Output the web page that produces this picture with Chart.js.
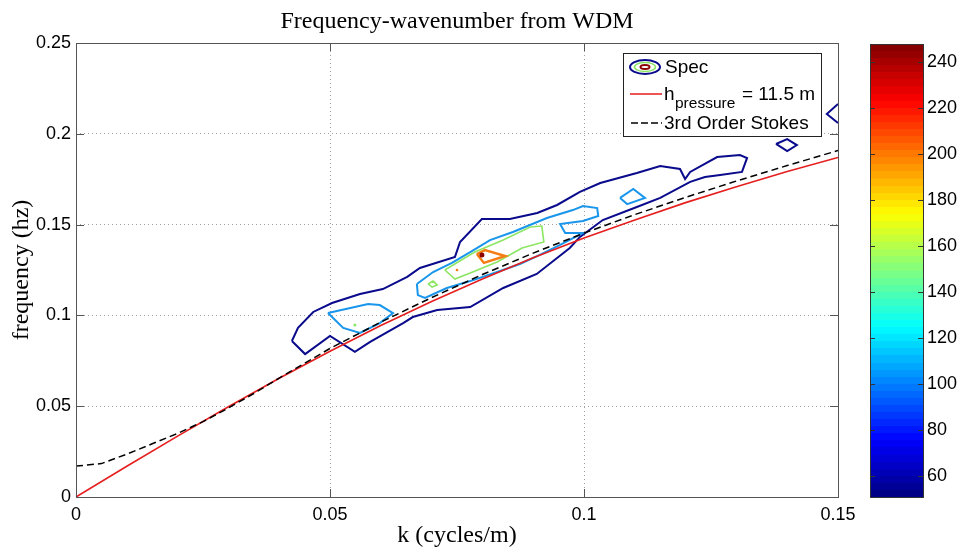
<!DOCTYPE html>
<html>
<head>
<meta charset="utf-8">
<script src="https://cdn.jsdelivr.net/npm/chart.js@4.4.1/dist/chart.umd.min.js"></script>
<style>
  html, body { margin: 0; padding: 0; background: #fff; }
  #wrap { position: relative; width: 963px; height: 548px; }
  #main { position: absolute; left: 0; top: 0; }
  #cbar { position: absolute; left: 870px; top: 0; }
</style>
</head>
<body>
<div id="wrap">
  <canvas id="main" width="963" height="548"></canvas>
  <canvas id="cbar" width="93" height="548"></canvas>
</div>
<script>
// linear dispersion curve, h = 11.5 m
var kLinear = [0, 0.01, 0.02, 0.03, 0.04, 0.05, 0.06, 0.07, 0.08, 0.09, 0.10, 0.11, 0.12, 0.13, 0.14, 0.15];
var fLinear = [0, 0.0169, 0.0335, 0.0497, 0.0654, 0.0803, 0.0944, 0.1077, 0.1201, 0.1317, 0.1426, 0.1526, 0.1621, 0.1709, 0.1792, 0.1870];

// 3rd order Stokes (black dashed)
var kStokes = [0, 0.005, 0.01, 0.015, 0.02, 0.025, 0.03, 0.035, 0.04, 0.05, 0.06, 0.07, 0.08, 0.09, 0.10, 0.11, 0.12, 0.13, 0.14, 0.15];
var fStokes = [0.0170, 0.0184, 0.0236, 0.0293, 0.0350, 0.0415, 0.0490, 0.0570, 0.0655, 0.0818, 0.0963, 0.1098, 0.1225, 0.1343, 0.1453, 0.1555, 0.1650, 0.1740, 0.1825, 0.1908];

// WDM spectrum contours, [k, f] pairs, one list per closed line
var spec60main = [[0.0425,0.0859],[0.0437,0.0931],[0.0467,0.1019],[0.0504,0.1068],[0.0559,0.1118],[0.0604,0.1145],[0.0652,0.1212],[0.0677,0.1261],[0.0746,0.1322],[0.0756,0.1404],[0.0799,0.1531],[0.0854,0.1531],[0.0908,0.1564],[0.0947,0.1608],[0.0992,0.1680],[0.1032,0.1729],[0.1104,0.1784],[0.1150,0.1823],[0.1189,0.1806],[0.1199,0.1751],[0.1209,0.1790],[0.1262,0.1872],[0.1307,0.1883],[0.1321,0.1867],[0.1311,0.1790],[0.1268,0.1773],[0.1238,0.1762],[0.1209,0.1735],[0.1150,0.1647],[0.1104,0.1597],[0.1037,0.1525],[0.0992,0.1432],[0.0972,0.1371],[0.0907,0.1228],[0.0841,0.1151],[0.0776,0.1046],[0.0711,0.1030],[0.0663,0.0991],[0.0644,0.0958],[0.0579,0.0854],[0.0549,0.0799],[0.0500,0.0887],[0.0451,0.0787],[0.0425,0.0859]];
var spec60small = [[0.1378,0.1944],[0.1400,0.1971],[0.1419,0.1938],[0.1400,0.1905],[0.1378,0.1944]];
var spec60edge = [[0.1500,0.2164],[0.1478,0.2109],[0.1500,0.2059]];
var spec105left = [[0.0496,0.1013],[0.0575,0.1063],[0.0598,0.1057],[0.0624,0.1013],[0.0598,0.0958],[0.0559,0.0903],[0.0526,0.0931],[0.0496,0.1013]];
var spec105main = [[0.0671,0.1173],[0.0703,0.1239],[0.0740,0.1289],[0.0776,0.1349],[0.0815,0.1415],[0.0860,0.1459],[0.0927,0.1536],[0.0978,0.1580],[0.0998,0.1602],[0.1026,0.1591],[0.1028,0.1547],[0.0998,0.1520],[0.0953,0.1503],[0.0963,0.1454],[0.0998,0.1454],[0.0953,0.1388],[0.0913,0.1333],[0.0874,0.1283],[0.0829,0.1239],[0.0776,0.1189],[0.0730,0.1151],[0.0687,0.1096],[0.0673,0.1112],[0.0671,0.1173]];
var spec105small = [[0.1071,0.1647],[0.1097,0.1696],[0.1120,0.1647],[0.1085,0.1613],[0.1071,0.1647]];
var spec155main = [[0.0726,0.1250],[0.0752,0.1294],[0.0785,0.1349],[0.0841,0.1415],[0.0894,0.1487],[0.0917,0.1492],[0.0921,0.1404],[0.0878,0.1371],[0.0829,0.1294],[0.0776,0.1234],[0.0746,0.1200],[0.0726,0.1250]];
var spec155small = [[0.0693,0.1173],[0.0703,0.1189],[0.0711,0.1167],[0.0701,0.1156],[0.0693,0.1173]];
var spec155dot = [[0.0549,0.0947]];
var spec205main = [[0.0789,0.1338],[0.0805,0.1360],[0.0845,0.1327],[0.0803,0.1289],[0.0789,0.1338]];
var spec205dot = [[0.0750,0.1250]];
var spec240dot = [[0.0799,0.1333]];

// axis ticks and colour scale
var xTicks = [0, 0.05, 0.1, 0.15];
var xTickLabels = ['0', '0.05', '0.1', '0.15'];
var yTicks = [0, 0.05, 0.1, 0.15, 0.2, 0.25];
var yTickLabels = ['0', '0.05', '0.1', '0.15', '0.2', '0.25'];
var colorTicks = [60, 80, 100, 120, 140, 160, 180, 200, 220, 240];
var colorRange = [51, 248];

var SANS = 'Liberation Sans, Arial, sans-serif';
var SERIF = 'Liberation Serif, Times New Roman, serif';
var NAVY = 'rgb(10,10,140)', LBLUE = 'rgb(25,150,235)', GREEN = 'rgb(140,230,100)',
    ORANGE = 'rgb(245,125,20)', DRED = 'rgb(140,0,0)', AXIS = '#555';

function pts(list) { return list.map(function(p){ return {x: p[0], y: p[1]}; }); }
function pair(ks, fs) { return ks.map(function(k, i){ return {x: k, y: fs[i]}; }); }
function contour(list, color, w) {
  return {data: pts(list), showLine: true, borderColor: color, borderWidth: w, pointRadius: 0, fill: false};
}
function dot(list, color, r) {
  return {data: pts(list), showLine: false, pointRadius: r, backgroundColor: color, borderColor: color, borderWidth: 0};
}

function jet(t) {
  function c(v){ return Math.round(255 * Math.max(0, Math.min(1, v))); }
  return 'rgb(' + c(1.5 - Math.abs(4*t - 3)) + ',' + c(1.5 - Math.abs(4*t - 2)) + ',' + c(1.5 - Math.abs(4*t - 1)) + ')';
}

// title, frame, inward ticks, legend
var decor = {
  id: 'decor',
  afterDraw: function(chart) {
    var ctx = chart.ctx, a = chart.chartArea, sx = chart.scales.x, sy = chart.scales.y;
    ctx.save();
    ctx.fillStyle = '#000';
    ctx.font = '24px ' + SERIF;
    ctx.textAlign = 'center';
    ctx.textBaseline = 'alphabetic';
    ctx.fillText('Frequency-wavenumber from WDM', (a.left + a.right) / 2, 28);

    ctx.strokeStyle = AXIS;
    ctx.lineWidth = 1;
    ctx.strokeRect(Math.round(a.left) + 0.5, Math.round(a.top) + 0.5, Math.round(a.right - a.left), Math.round(a.bottom - a.top));
    ctx.beginPath();
    xTicks.forEach(function(v){
      var x = Math.round(sx.getPixelForValue(v)) + 0.5;
      ctx.moveTo(x, a.bottom); ctx.lineTo(x, a.bottom - 8);
      ctx.moveTo(x, a.top); ctx.lineTo(x, a.top + 8);
    });
    yTicks.forEach(function(v){
      var y = Math.round(sy.getPixelForValue(v)) + 0.5;
      ctx.moveTo(a.left, y); ctx.lineTo(a.left + 8, y);
      ctx.moveTo(a.right, y); ctx.lineTo(a.right - 8, y);
    });
    ctx.stroke();

    // legend box
    var lx = 623, ly = 53, lw = 198, lh = 83;
    ctx.fillStyle = '#fff';
    ctx.fillRect(lx, ly, lw, lh);
    ctx.strokeStyle = '#222';
    ctx.strokeRect(lx + 0.5, ly + 0.5, lw, lh);
    function ell(rx, ry, col, w) {
      ctx.beginPath(); ctx.strokeStyle = col; ctx.lineWidth = w;
      ctx.ellipse(645, 67, rx, ry, 0, 0, Math.PI * 2); ctx.stroke();
    }
    ell(15, 7, NAVY, 2);
    ell(10.5, 4.5, GREEN, 1.5);
    ell(4.5, 2, DRED, 2);
    ctx.lineWidth = 1.5;
    ctx.strokeStyle = 'rgb(230,30,30)';
    ctx.beginPath(); ctx.moveTo(630, 94); ctx.lineTo(662, 94); ctx.stroke();
    ctx.strokeStyle = '#000';
    ctx.setLineDash([7, 3]);
    ctx.beginPath(); ctx.moveTo(631, 123); ctx.lineTo(662, 123); ctx.stroke();
    ctx.setLineDash([]);
    ctx.fillStyle = '#000';
    ctx.textAlign = 'left';
    ctx.font = '19px ' + SANS;
    ctx.fillText('Spec', 665, 73);
    ctx.fillText('h', 664, 100);
    ctx.fillText('= 11.5 m', 742, 100);
    ctx.fillText('3rd Order Stokes', 664, 129);
    ctx.font = '15.5px ' + SANS;
    ctx.fillText('pressure', 675, 108);
    ctx.restore();
  }
};

var datasets = [
  {data: pair(kStokes, fStokes), showLine: true, borderColor: '#000', borderWidth: 1.5, borderDash: [7, 4], pointRadius: 0, fill: false},
  {data: pair(kLinear, fLinear), showLine: true, borderColor: 'rgb(230,30,30)', borderWidth: 1.6, pointRadius: 0, fill: false},
  dot(spec240dot, DRED, 2.5),
  contour(spec205main, ORANGE, 2.5),
  dot(spec205dot, ORANGE, 1.3),
  contour(spec155main, GREEN, 1.6),
  contour(spec155small, GREEN, 1.6),
  dot(spec155dot, GREEN, 1.5),
  contour(spec105main, LBLUE, 2),
  contour(spec105left, LBLUE, 2),
  contour(spec105small, LBLUE, 2),
  contour(spec60main, NAVY, 2),
  contour(spec60small, NAVY, 2),
  contour(spec60edge, NAVY, 2)
];

new Chart(document.getElementById('main'), {
  type: 'scatter',
  data: {datasets: datasets},
  options: {
    responsive: false,
    animation: false,
    layout: {padding: {top: 43, right: 125, left: 0, bottom: 0}},
    plugins: {legend: {display: false}, tooltip: {enabled: false}},
    scales: {
      x: {
        type: 'linear', min: 0, max: 0.15,
        afterFit: function(s){ s.height = 51; },
        afterBuildTicks: function(s){ s.ticks = xTicks.map(function(v){ return {value: v}; }); },
        grid: {color: '#a0a0a0', drawTicks: false},
        border: {display: false, dash: [1, 3]},
        ticks: {color: '#000', font: {family: SANS, size: 18}, padding: 7, maxRotation: 0,
                callback: function(v, i){ return xTickLabels[i]; }},
        title: {display: true, text: 'k (cycles/m)', color: '#000', font: {family: SERIF, size: 24, lineHeight: 1}, padding: {top: 0, bottom: 0}}
      },
      y: {
        type: 'linear', min: 0, max: 0.25,
        afterFit: function(s){ s.width = 76; },
        afterBuildTicks: function(s){ s.ticks = yTicks.map(function(v){ return {value: v}; }); },
        grid: {color: '#a0a0a0', drawTicks: false},
        border: {display: false, dash: [1, 3]},
        ticks: {color: '#000', font: {family: SANS, size: 18}, padding: 5,
                callback: function(v, i){ return yTickLabels[i]; }},
        title: {display: true, text: 'frequency (hz)', color: '#000', font: {family: SERIF, size: 24, lineHeight: 1}, padding: {top: 10, bottom: 0}}
      }
    }
  },
  plugins: [decor]
});

// colour bar
var cbarTicks = {
  id: 'cbarTicks',
  afterDraw: function(chart) {
    var ctx = chart.ctx, a = chart.chartArea, sy = chart.scales.y;
    ctx.save();
    ctx.strokeStyle = '#333';
    ctx.lineWidth = 1;
    ctx.strokeRect(Math.round(a.left) + 0.5, Math.round(a.top) + 0.5, Math.round(a.right - a.left) - 1, Math.round(a.bottom - a.top));
    ctx.beginPath();
    colorTicks.forEach(function(v){
      var y = Math.round(sy.getPixelForValue(v)) + 0.5;
      ctx.moveTo(a.left, y); ctx.lineTo(a.left + 5, y);
      ctx.moveTo(a.right - 1, y); ctx.lineTo(a.right - 6, y);
    });
    ctx.stroke();
    ctx.restore();
  }
};

new Chart(document.getElementById('cbar'), {
  type: 'bar',
  data: {
    labels: [''],
    datasets: [{
      data: [colorRange],
      borderWidth: 0,
      barPercentage: 1,
      categoryPercentage: 1,
      backgroundColor: function(c) {
        var a = c.chart.chartArea;
        if (!a) return '#888';
        var g = c.chart.ctx.createLinearGradient(0, a.bottom, 0, a.top);
        for (var i = 0; i < 64; i++) {
          var col = jet((i + 0.5) / 64);
          g.addColorStop(i / 64, col);
          g.addColorStop(Math.min(1, (i + 1) / 64 - 0.0001), col);
        }
        return g;
      }
    }]
  },
  options: {
    responsive: false,
    animation: false,
    layout: {padding: {top: 44, bottom: 51, left: 0, right: 0}},
    plugins: {legend: {display: false}, tooltip: {enabled: false}},
    scales: {
      x: {display: false},
      y: {
        position: 'right', min: colorRange[0], max: colorRange[1],
        afterFit: function(s){ s.width = 39; },
        afterBuildTicks: function(s){ s.ticks = colorTicks.map(function(v){ return {value: v}; }); },
        grid: {display: false, drawTicks: false},
        border: {display: false},
        ticks: {color: '#000', font: {family: SANS, size: 18}, padding: 3}
      }
    }
  },
  plugins: [cbarTicks]
});
</script>
</body>
</html>
